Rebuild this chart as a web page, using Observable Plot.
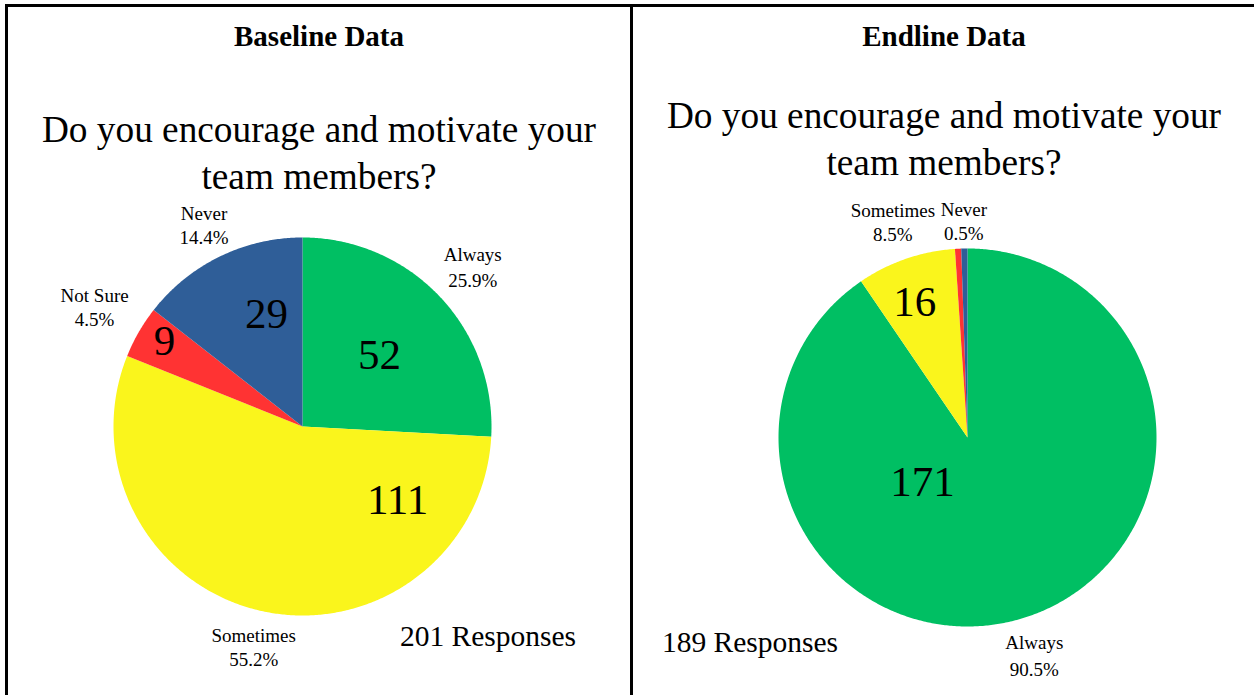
<!DOCTYPE html>
<html>
<head>
<meta charset="utf-8">
<script src="https://cdn.jsdelivr.net/npm/d3@7"></script>
<script src="https://cdn.jsdelivr.net/npm/@observablehq/plot@0.6"></script>
<style>
  html, body { margin: 0; padding: 0; background: #fff; }
  body { width: 1254px; height: 695px; overflow: hidden; position: relative;
         font-family: "Liberation Serif", "Times New Roman", serif; color: #000; }
  .frame { position: absolute; left: 5px; top: 4px; width: 1247px; height: 700px;
           border-top: 3px solid #000; border-left: 3px solid #000; border-right: 3px solid #000; }
  .divider { position: absolute; left: 630px; top: 4px; width: 3px; height: 700px; background: #000; }
  .heading { position: absolute; top: 22px; width: 622px; text-align: center;
             font-size: 29px; line-height: 29px; font-weight: bold; white-space: nowrap; }
  .question { position: absolute; width: 622px; text-align: center;
              font-size: 37.3px; line-height: 47px; white-space: nowrap; }
  .responses { position: absolute; width: 300px; text-align: center;
               font-size: 29.5px; line-height: 29.5px; white-space: nowrap; }
  .chart { position: absolute; top: 180px; width: 622px; height: 515px; }
  .chart svg { overflow: visible; }
</style>
</head>
<body>
<div class="frame"></div>
<div class="divider"></div>
<div id="root"></div>
<script>
// ---- data ----
const categories = ["Always", "Sometimes", "Not Sure", "Never"];
const colors = ["#00BF63", "#FAF51C", "#FF3333", "#2F5E98"];
const baselineCounts = [52, 111, 9, 29];
const endlineCounts = [171, 16, 1, 1];
const panelTitles = ["Baseline Data", "Endline Data"];
const questionLines = ["Do you encourage and motivate your", "team members?"];

// ---- layout (placement of labels in pie-radius units) ----
const R = 189;
const panels = [
  {
    title: panelTitles[0], counts: baselineCounts, left: 8, qTop: 106,
    cx: 294, cy: 246,
    outer: {"Always": 1.24, "Sometimes": 1.19, "Not Sure": 1.27, "Never": 1.19},
    inner: {"Always": [0.7, 0.554], "Sometimes": [-64.8, 0.636], "Not Sure": [1.6, 0.858], "Never": [8.1, 0.622]},
    resp: {cx: 488, top: 622}
  },
  {
    title: panelTitles[1], counts: endlineCounts, left: 633, qTop: 92,
    cx: 334, cy: 257,
    outer: {"Always": 1.20, "Sometimes": 1.21, "Never": 1.15},
    inner: {"Always": [62.4, 0.335], "Sometimes": [-2.3, 0.767]},
    resp: {cx: 750, top: 628}
  }
];

const pct = d3.format(".1%");
const root = document.getElementById("root");

function buildSlices(counts) {
  const total = d3.sum(counts);
  let acc = 0;
  return categories.map((c, i) => {
    const a0 = acc / total * 2 * Math.PI;
    acc += counts[i];
    const a1 = acc / total * 2 * Math.PI;
    return {category: c, count: counts[i], share: counts[i] / total, a0, a1, mid: (a0 + a1) / 2};
  });
}

function polygonRows(slices) {
  const rows = [];
  for (const s of slices) {
    const n = Math.max(2, Math.ceil((s.a1 - s.a0) / (Math.PI / 360)));
    rows.push({category: s.category, x: 0, y: 0});
    for (let k = 0; k <= n; k++) {
      const a = s.a0 + (s.a1 - s.a0) * k / n;
      rows.push({category: s.category, x: Math.sin(a), y: Math.cos(a)});
    }
    rows.push({category: s.category, x: 0, y: 0});
  }
  return rows;
}

for (const p of panels) {
  const h = document.createElement("div");
  h.className = "heading"; h.style.left = p.left + "px"; h.textContent = p.title;
  root.appendChild(h);

  const q = document.createElement("div");
  q.className = "question"; q.style.left = p.left + "px"; q.style.top = p.qTop + "px";
  q.innerHTML = questionLines.join("<br>");
  root.appendChild(q);

  const slices = buildSlices(p.counts);
  const rows = polygonRows(slices);

  const outer = slices.filter(s => p.outer[s.category] != null).map(s => {
    const r = p.outer[s.category];
    return {category: s.category, lx: r * Math.sin(s.mid), ly: r * Math.cos(s.mid),
            text: s.category + "\n" + pct(s.share)};
  });
  const inner = slices.filter(s => p.inner[s.category] != null).map(s => {
    const [off, r] = p.inner[s.category];
    const a = s.mid + off * Math.PI / 180;
    return {category: s.category, lx: r * Math.sin(a), ly: r * Math.cos(a), text: String(s.count)};
  });

  const svg = Plot.plot({
    width: 622, height: 515, margin: 0,
    x: {domain: [-1, 1], range: [p.cx - R, p.cx + R], axis: null},
    y: {domain: [-1, 1], range: [p.cy + R, p.cy - R], axis: null},
    color: {type: "ordinal", domain: categories, range: colors},
    style: {fontFamily: "Liberation Serif, Times New Roman, serif", background: "transparent", color: "#000"},
    marks: [
      Plot.line(rows, {x: "x", y: "y", z: "category", fill: "category", stroke: "none"}),
      Plot.text(outer.filter(d => d.category === "Always"), {
        x: "lx", y: "ly", text: "text", fontSize: 19, lineHeight: 1.4,
        textAnchor: "middle", lineAnchor: "middle", fill: "#000"}),
      Plot.text(outer.filter(d => d.category !== "Always"), {
        x: "lx", y: "ly", text: "text", fontSize: 19, lineHeight: 1.26,
        textAnchor: "middle", lineAnchor: "middle", fill: "#000"}),
      Plot.text(inner, {
        x: "lx", y: "ly", text: "text", fontSize: 43,
        textAnchor: "middle", lineAnchor: "middle", fill: "#000"})
    ]
  });
  const wrap = document.createElement("div");
  wrap.className = "chart"; wrap.style.left = p.left + "px";
  wrap.appendChild(svg);
  root.appendChild(wrap);

  const r = document.createElement("div");
  r.className = "responses";
  r.style.left = (p.resp.cx - 150) + "px"; r.style.top = p.resp.top + "px";
  r.textContent = d3.sum(p.counts) + " Responses";
  root.appendChild(r);
}
</script>
</body>
</html>
